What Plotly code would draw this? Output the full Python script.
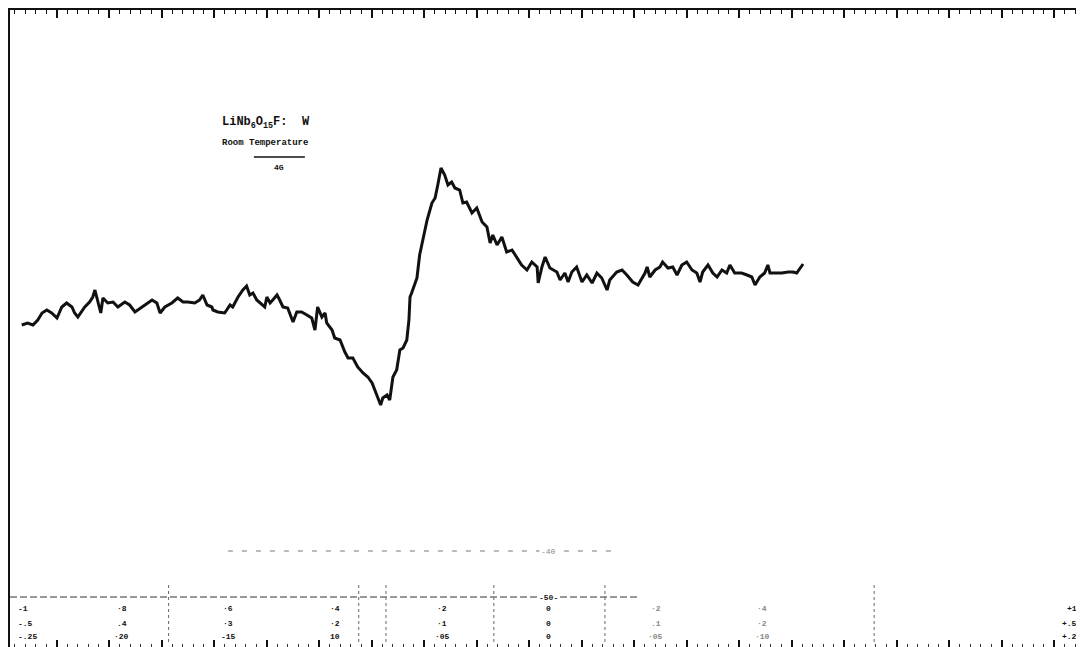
import plotly.graph_objects as go

# ---- data (field in sweep units -1..+1, signal in arbitrary units) ----
field = [
    -0.987, -0.976, -0.966, -0.957, -0.949, -0.940, -0.931, -0.921, -0.912, -0.903,
    -0.893, -0.888, -0.882, -0.869, -0.860, -0.854, -0.850, -0.845, -0.839, -0.835,
    -0.826, -0.816, -0.807, -0.794, -0.785, -0.775, -0.762, -0.753, -0.743, -0.734,
    -0.728, -0.719, -0.706, -0.695, -0.685, -0.676, -0.663, -0.654, -0.648, -0.640,
    -0.631, -0.629, -0.620, -0.607, -0.597, -0.592, -0.582, -0.573, -0.566, -0.560,
    -0.554, -0.547, -0.541, -0.532, -0.528, -0.522, -0.517, -0.509, -0.504, -0.498,
    -0.489, -0.479, -0.472, -0.463, -0.453, -0.444, -0.438, -0.433, -0.425, -0.419,
    -0.416, -0.406, -0.401, -0.391, -0.382, -0.376, -0.367, -0.358, -0.348, -0.339,
    -0.331, -0.326, -0.320, -0.315, -0.311, -0.303, -0.298, -0.292, -0.285, -0.279,
    -0.273, -0.266, -0.262, -0.260, -0.257, -0.247, -0.242, -0.236, -0.228, -0.219,
    -0.213, -0.208, -0.202, -0.195, -0.189, -0.182, -0.176, -0.167, -0.161, -0.154,
    -0.144, -0.135, -0.125, -0.116, -0.110, -0.105, -0.097, -0.088, -0.079, -0.069,
    -0.060, -0.051, -0.041, -0.032, -0.022, -0.020, -0.013, -0.007, 0.002, 0.015,
    0.021, 0.030, 0.036, 0.043, 0.052, 0.062, 0.071, 0.081, 0.090, 0.099,
    0.109, 0.114, 0.127, 0.137, 0.146, 0.157, 0.167, 0.174, 0.180, 0.184,
    0.189, 0.199, 0.208, 0.213, 0.223, 0.232, 0.240, 0.249, 0.258, 0.268,
    0.277, 0.283, 0.288, 0.298, 0.307, 0.315, 0.324, 0.333, 0.339, 0.348,
    0.361, 0.371, 0.380, 0.386, 0.395, 0.404, 0.410, 0.414, 0.423, 0.436,
    0.448, 0.457, 0.464, 0.470, 0.476,
]
signal = [
    -0.15, -0.13, -0.15, -0.10, -0.03, 0.00, -0.03, -0.08, 0.03, 0.07,
    0.03, -0.03, -0.07, 0.03, 0.08, 0.13, 0.20, 0.10, -0.03, 0.12,
    0.07, 0.08, 0.03, 0.08, 0.05, -0.02, 0.03, 0.07, 0.10, 0.07,
    -0.03, 0.03, 0.07, 0.12, 0.08, 0.08, 0.07, 0.10, 0.15, 0.05,
    0.03, 0.00, -0.02, -0.03, 0.05, 0.03, 0.13, 0.20, 0.24, 0.15,
    0.17, 0.10, 0.07, 0.03, 0.13, 0.07, 0.10, 0.15, 0.10, 0.03,
    0.02, -0.12, -0.02, -0.02, -0.05, -0.08, -0.20, 0.03, -0.07, -0.03,
    -0.13, -0.20, -0.28, -0.30, -0.42, -0.48, -0.48, -0.57, -0.63, -0.67,
    -0.73, -0.80, -0.88, -0.95, -0.88, -0.85, -0.90, -0.67, -0.60, -0.40,
    -0.38, -0.30, -0.10, 0.13, 0.17, 0.32, 0.55, 0.70, 0.90, 1.07,
    1.12, 1.25, 1.42, 1.35, 1.25, 1.28, 1.22, 1.20, 1.07, 1.08,
    0.97, 1.02, 0.88, 0.83, 0.67, 0.75, 0.65, 0.73, 0.58, 0.60,
    0.52, 0.45, 0.40, 0.48, 0.43, 0.27, 0.43, 0.53, 0.42, 0.38,
    0.30, 0.37, 0.28, 0.38, 0.43, 0.28, 0.35, 0.27, 0.37, 0.32,
    0.20, 0.30, 0.38, 0.40, 0.35, 0.28, 0.25, 0.32, 0.37, 0.43,
    0.33, 0.40, 0.43, 0.48, 0.42, 0.43, 0.35, 0.45, 0.48, 0.40,
    0.37, 0.28, 0.38, 0.45, 0.37, 0.33, 0.40, 0.37, 0.45, 0.37,
    0.37, 0.35, 0.33, 0.25, 0.33, 0.37, 0.45, 0.37, 0.37, 0.37,
    0.38, 0.38, 0.37, 0.42, 0.46,
]

# bottom chart-paper scale (three rows of labels)
scale_pos = [-1.0, -0.8, -0.6, -0.4, -0.2, 0.0, 0.2, 0.4, 1.0]
scale_row1 = ["-1", "·8", "·6", "·4", "·2", "0", "·2", "·4", "+1"]
scale_row2 = ["-.5", ".4", "·3", "·2", "·1", "0", ".1", "·2", "+.5"]
scale_row3 = ["-.25", "·20", "-15", "10", "·05", "0", "·05", "·10", "+.2"]

title_line1 = "LiNb<sub>6</sub>O<sub>15</sub>F:  W"
title_line2 = "Room Temperature"
scale_bar_label = "4G"

# ------------------------------------------------------------------------------------------
X_RANGE = [-1.009, 1.002]
Y_RANGE = [-3.37, 3.00]
TICK0 = -0.9213
DTICK = 0.09831
MINOR = DTICK / 5

fig = go.Figure()
fig.add_trace(go.Scatter(
    x=field, y=signal, mode="lines",
    line=dict(color="#111111", width=3),
    showlegend=False, hoverinfo="skip",
))
# invisible trace so the top (mirror) axis is drawn
fig.add_trace(go.Scatter(x=[field[0]], y=[signal[0]], xaxis="x2", mode="markers",
                         marker=dict(opacity=0), showlegend=False, hoverinfo="skip"))

MONO = "Liberation Mono"

fig.update_layout(
    width=1076, height=639,
    margin=dict(l=2, r=0, t=2, b=0),
    paper_bgcolor="white", plot_bgcolor="white",
    xaxis=dict(range=X_RANGE, showgrid=False, zeroline=False, showline=False,
               showticklabels=False, ticks="inside", ticklen=7, tickwidth=1.5,
               tickcolor="#111", tickmode="linear", tick0=TICK0, dtick=DTICK,
               minor=dict(ticks="inside", ticklen=3, tickwidth=1, tickcolor="#333",
                          dtick=MINOR, tick0=TICK0)),
    xaxis2=dict(range=X_RANGE, overlaying="x", side="top", showgrid=False,
                zeroline=False, showline=True, linecolor="#111", linewidth=2,
                showticklabels=False, ticks="inside", ticklen=8, tickwidth=1.6,
                tickcolor="#111", tickmode="linear", tick0=TICK0, dtick=DTICK,
                minor=dict(ticks="inside", ticklen=4, tickwidth=1.2, tickcolor="#111",
                           dtick=MINOR, tick0=TICK0)),
    yaxis=dict(range=Y_RANGE, showgrid=False, zeroline=False, showline=True,
               linecolor="#111", linewidth=2, showticklabels=False, ticks=""),
)

# label block
fig.add_annotation(x=-0.616, y=1.87, text="<b>" + title_line1 + "</b>", showarrow=False,
                   xanchor="left", yanchor="middle",
                   font=dict(family=MONO, size=12, color="#111"))
fig.add_annotation(x=-0.616, y=1.67, text="<b>" + title_line2 + "</b>", showarrow=False,
                   xanchor="left", yanchor="middle",
                   font=dict(family=MONO, size=9, color="#111"))
fig.add_shape(type="line", xref="x", yref="y", x0=-0.5524, x1=-0.4569, y0=1.53, y1=1.53,
              line=dict(color="#111", width=1.4))
fig.add_annotation(x=-0.505, y=1.43, text="<b>" + scale_bar_label + "</b>", showarrow=False,
                   xanchor="center", yanchor="middle",
                   font=dict(family=MONO, size=8, color="#111"))

# chart-paper dashed reference lines
fig.add_shape(type="line", xref="x", yref="y", x0=-1.009, x1=0.17, y0=-2.87, y1=-2.87,
              line=dict(color="#333", width=1, dash="7px,3px"))
fig.add_shape(type="line", xref="x", yref="y", x0=-0.601, x1=0.133, y0=-2.41, y1=-2.41,
              line=dict(color="#777", width=1, dash="5px,9px"))
fig.add_annotation(x=0.0, y=-2.87, text="<b>-50-</b>", showarrow=False,
                   bgcolor="white", font=dict(family=MONO, size=8, color="#222"))
fig.add_annotation(x=0.0, y=-2.41, text="-40", showarrow=False, bgcolor="white",
                   font=dict(family=MONO, size=8, color="#888"))

# dotted vertical grid fragments of the chart paper
for xv in [-0.712, -0.356, -0.305, -0.103, 0.105, 0.609]:
    fig.add_shape(type="line", xref="x", yref="y", x0=xv, x1=xv, y0=-2.75, y1=-3.33,
                  line=dict(color="#666", width=1, dash="dot"))

# bottom scale labels
for xv, r1, r2, r3 in zip(scale_pos, scale_row1, scale_row2, scale_row3):
    faded = 0.0 < xv < 1.0
    col = "#888" if faded else "#111"
    if xv <= -1.0:
        anchor, xp = "left", xv + 0.003
    elif xv >= 1.0:
        anchor, xp = "right", xv - 0.008
    else:
        anchor, xp = "center", xv
    for yv, txt in [(-2.98, r1), (-3.13, r2), (-3.26, r3)]:
        fig.add_annotation(x=xp, y=yv, text="<b>" + txt + "</b>", showarrow=False,
                           xanchor=anchor, yanchor="middle",
                           font=dict(family=MONO, size=8, color=col))

fig.write_html("out.html")
